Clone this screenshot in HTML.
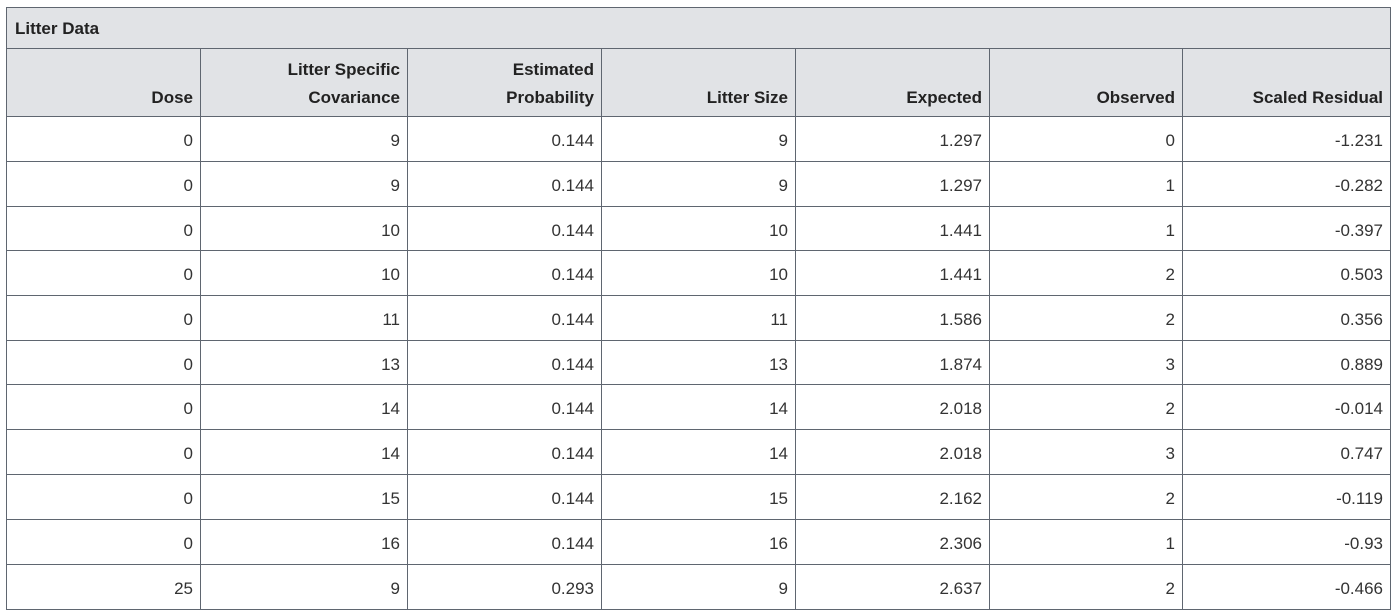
<!DOCTYPE html>
<html><head><meta charset="utf-8"><style>
html,body{margin:0;padding:0;background:#fff;width:1392px;height:612px;overflow:hidden}
table{position:absolute;left:6px;top:7px;border-collapse:collapse;table-layout:fixed;width:1384px;font-family:"Liberation Sans",sans-serif;color:#222}
td,th{border:1px solid #5f6670;padding:0 7px 0 6px;text-align:right;font-size:17px;box-sizing:border-box}
th{background:#e1e3e6;font-weight:bold;vertical-align:bottom;padding-bottom:4px;line-height:28px}
td{vertical-align:middle;padding-top:4px;color:#333}
.title th{text-align:left;height:41px;vertical-align:middle;padding:2px 8px 0;line-height:20px}
</style></head><body>
<table>
<colgroup><col style="width:194px"><col style="width:207px"><col style="width:194px"><col style="width:194px"><col style="width:194px"><col style="width:193px"><col style="width:208px"></colgroup>
<tr class="title"><th colspan="7">Litter Data</th></tr>
<tr style="height:68px">
<th>Dose</th>
<th>Litter Specific<br>Covariance</th>
<th>Estimated<br>Probability</th>
<th>Litter Size</th>
<th>Expected</th>
<th>Observed</th>
<th>Scaled Residual</th>
</tr>
<tbody id="body"></tbody>
</table>
<script>
const rows=[
["0","9","0.144","9","1.297","0","-1.231"],
["0","9","0.144","9","1.297","1","-0.282"],
["0","10","0.144","10","1.441","1","-0.397"],
["0","10","0.144","10","1.441","2","0.503"],
["0","11","0.144","11","1.586","2","0.356"],
["0","13","0.144","13","1.874","3","0.889"],
["0","14","0.144","14","2.018","2","-0.014"],
["0","14","0.144","14","2.018","3","0.747"],
["0","15","0.144","15","2.162","2","-0.119"],
["0","16","0.144","16","2.306","1","-0.93"],
["25","9","0.293","9","2.637","2","-0.466"]];
const heights=[45,45,44,45,45,44,45,45,45,45,45];
const body=document.getElementById('body');
rows.forEach((r,i)=>{
 const tr=document.createElement('tr');
 
 
 tr.style.height=heights[i]+'px';
 r.forEach(v=>{
  const td=document.createElement('td');
  
  
  td.textContent=v;tr.appendChild(td);
 });
 body.appendChild(tr);
});
</script>
</body></html>
